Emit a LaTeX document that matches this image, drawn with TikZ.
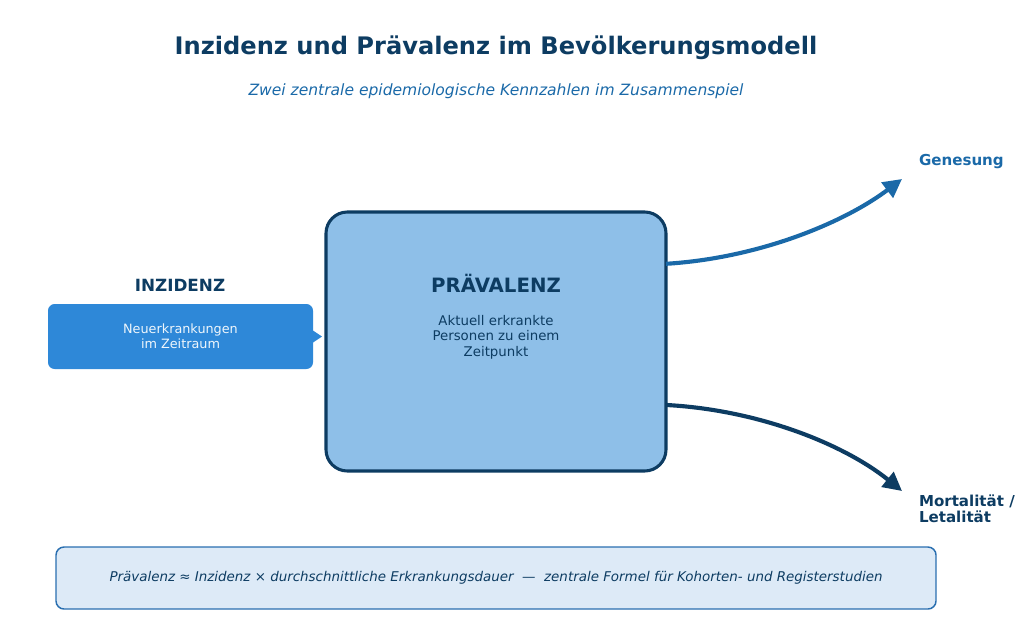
\documentclass[tikz,border=0pt]{standalone}
\usepackage{fontspec}
\setmainfont{DejaVu Sans}
\usetikzlibrary{arrows.meta,calc}
\definecolor{dunkel}{HTML}{0D3C62}
\definecolor{mittel}{HTML}{1A69A8}
\definecolor{hell}{HTML}{8EBFE8}
\definecolor{inzblau}{HTML}{2E88D8}
\definecolor{formel}{HTML}{DDEAF7}
\definecolor{formelrand}{HTML}{2A6FB0}

\begin{document}
\begin{tikzpicture}[x=0.75pt,y=-0.75pt, every node/.style={inner sep=0pt, outer sep=0pt, align=center},
  fluss/.style={line width=3.1pt, -{Triangle[length=14pt,width=14pt]}}]
\useasboundingbox (0,0) rectangle (1024,643);

\node[font=\bfseries\fontsize{18.1}{21}\selectfont, text=dunkel] (titel) at (496,47.5) {Inzidenz und Prävalenz im Bevölkerungsmodell};
\node[font=\itshape\fontsize{11.65}{14}\selectfont, text=mittel] (untertitel) at (496,91) {Zwei zentrale epidemiologische Kennzahlen im Zusammenspiel};

\node[draw=dunkel, line width=2.3pt, fill=hell, rounded corners=16pt, minimum width=340*0.75pt, minimum height=259*0.75pt] (prae) at (496,341.5) {};
\node[font=\bfseries\fontsize{14.8}{17}\selectfont, text=dunkel] (praetitel) at (496,283.5) {PRÄVALENZ};
\node[font=\fontsize{10}{11.5}\selectfont, text=dunkel] (praetext) at (496,337) {Aktuell erkrankte\\Personen zu einem\\Zeitpunkt};

\node[font=\bfseries\fontsize{12.6}{14}\selectfont, text=dunkel] (inztitel) at (180,285) {INZIDENZ};
\node[fill=inzblau, rounded corners=5pt, minimum width=265*0.75pt, minimum height=65*0.75pt, text=white!92!inzblau, font=\fontsize{9.6}{11.5}\selectfont] (inz) at (180.5,336.5) {Neuerkrankungen\\im Zeitraum};
\fill[inzblau] (inz.east) ++(0,-6) -- ++(9,6) -- ++(-9,6) -- cycle;

\coordinate (gen) at (902,179);
\coordinate (mort) at (902,491);
\node[anchor=west, font=\bfseries\fontsize{11.3}{13}\selectfont, text=mittel] (genlabel) at (919,161.5) {Genesung};
\node[anchor=north west, align=left, font=\bfseries\fontsize{11.3}{12}\selectfont, text=dunkel] (mortlabel) at (919,494.5) {Mortalität /\\Letalität};

\draw[fluss, mittel] ($(prae.north east)!0.2!(prae.south east)$) .. controls (760,258) and (845,222) .. (gen);
\draw[fluss, dunkel] ($(prae.north east)!0.745!(prae.south east)$) .. controls (760,410) and (845,445) .. (mort);

\node[draw=formelrand, line width=1.1pt, fill=formel, rounded corners=6pt, minimum width=880*0.75pt, minimum height=62*0.75pt, text=dunkel, font=\itshape\fontsize{10.07}{12}\selectfont] (formelbox) at (496,578) {Prävalenz ≈ Inzidenz × durchschnittliche Erkrankungsdauer \ — \ zentrale Formel für Kohorten- und Registerstudien};
\end{tikzpicture}
\end{document}
